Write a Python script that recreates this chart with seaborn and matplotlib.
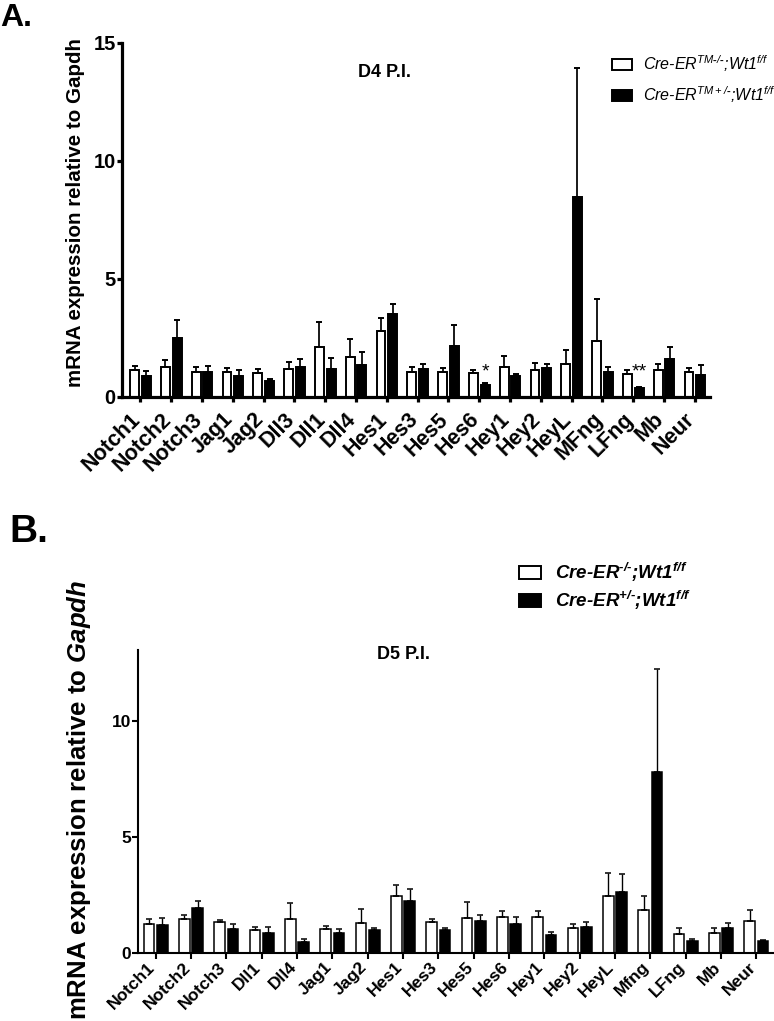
import matplotlib
matplotlib.use('Agg')
import matplotlib.pyplot as plt
from matplotlib.patches import Patch
from matplotlib.transforms import ScaledTranslation
import seaborn as sns
import pandas as pd
import numpy as np

# ---- panel A: D4 P.I. ----
genes_a = ['Notch1', 'Notch2', 'Notch3', 'Jag1', 'Jag2', 'Dll3', 'Dll1', 'Dll4', 'Hes1',
           'Hes3', 'Hes5', 'Hes6', 'Hey1', 'Hey2', 'HeyL', 'MFng', 'LFng', 'Mb', 'Neur']
ctrl_a = [1.14, 1.26, 1.06, 1.07, 1.03, 1.17, 2.13, 1.71, 2.78, 1.07, 1.06, 1.00, 1.28, 1.14, 1.40, 2.36, 0.99, 1.13, 1.04]
ctrl_a_err = [0.19, 0.29, 0.21, 0.14, 0.17, 0.30, 1.06, 0.75, 0.58, 0.21, 0.18, 0.16, 0.46, 0.30, 0.59, 1.78, 0.15, 0.27, 0.17]
ko_a = [0.89, 2.49, 1.06, 0.88, 0.68, 1.26, 1.20, 1.37, 3.50, 1.17, 2.16, 0.51, 0.89, 1.23, 8.47, 1.07, 0.39, 1.60, 0.94]
ko_a_err = [0.22, 0.77, 0.25, 0.25, 0.10, 0.34, 0.45, 0.55, 0.45, 0.23, 0.90, 0.08, 0.08, 0.17, 5.47, 0.21, 0.05, 0.53, 0.40]
sig_a = {'Hes6': '*', 'LFng': '**'}
labels_a = [r'Cre-ER$^{TM\text{-}/\text{-}}$;Wt1$^{f/f}$', r'Cre-ER$^{TM+/\text{-}}$;Wt1$^{f/f}$']

# ---- panel B: D5 P.I. ----
genes_b = ['Notch1', 'Notch2', 'Notch3', 'Dll1', 'Dll4', 'Jag1', 'Jag2', 'Hes1', 'Hes3',
           'Hes5', 'Hes6', 'Hey1', 'Hey2', 'HeyL', 'Mfng', 'LFng', 'Mb', 'Neur']
ctrl_b = [1.26, 1.46, 1.32, 0.98, 1.47, 1.04, 1.29, 2.47, 1.31, 1.52, 1.53, 1.53, 1.09, 2.47, 1.85, 0.82, 0.85, 1.38]
ctrl_b_err = [0.20, 0.19, 0.08, 0.15, 0.66, 0.11, 0.61, 0.44, 0.15, 0.67, 0.27, 0.26, 0.15, 0.98, 0.61, 0.24, 0.24, 0.48]
ko_b = [1.20, 1.93, 1.03, 0.85, 0.45, 0.86, 1.00, 2.25, 0.98, 1.35, 1.25, 0.77, 1.13, 2.62, 7.78, 0.51, 1.06, 0.49]
ko_b_err = [0.30, 0.32, 0.23, 0.28, 0.15, 0.17, 0.09, 0.52, 0.08, 0.27, 0.31, 0.12, 0.21, 0.80, 4.44, 0.09, 0.23, 0.08]
labels_b = [r'Cre-ER$^{\text{-}/\text{-}}$;Wt1$^{f/f}$', r'Cre-ER$^{+/\text{-}}$;Wt1$^{f/f}$']

sns.set_theme(style='ticks')
plt.rcParams['font.family'] = ['Liberation Sans', 'DejaVu Sans']
plt.rcParams['font.weight'] = 'bold'
plt.rcParams['mathtext.default'] = 'regular'
plt.rcParams['mathtext.fontset'] = 'custom'
plt.rcParams['mathtext.it'] = 'Liberation Sans:italic:bold'
plt.rcParams['mathtext.rm'] = 'Liberation Sans'
for k in ['text.color', 'axes.labelcolor', 'xtick.color', 'ytick.color', 'axes.edgecolor']:
    plt.rcParams[k] = 'black'


def make_df(genes, ctrl, ko):
    return pd.DataFrame({
        'gene': genes * 2,
        'group': ['ctrl'] * len(genes) + ['ko'] * len(genes),
        'value': list(ctrl) + list(ko),
    })


def draw_panel(ax, genes, ctrl, ctrl_err, ko, ko_err, lw, gap):
    df = make_df(genes, ctrl, ko)
    sns.barplot(data=df, x='gene', y='value', hue='group', palette=['white', 'black'],
                edgecolor='black', linewidth=lw, width=0.76, gap=gap,
                errorbar=None, legend=False, ax=ax)
    # upper-only SEM bars, GraphPad style
    for cont, errs in zip(ax.containers, [ctrl_err, ko_err]):
        xs = [p.get_x() + p.get_width() / 2 for p in cont]
        hs = [p.get_height() for p in cont]
        ax.errorbar(xs, hs, yerr=[np.zeros(len(errs)), errs], fmt='none',
                    ecolor='black', elinewidth=lw * 0.9, capsize=2, capthick=lw, zorder=1)
    return ax


def shift_xlabels(ax, dx, dy):
    # nudge rotated tick labels by a few pixels
    off = ScaledTranslation(dx / 100, dy / 100, fig.dpi_scale_trans)
    for t in ax.xaxis.get_major_ticks():
        t.label1.set_transform(t.label1.get_transform() + off)


fig = plt.figure(figsize=(7.74, 10.21), dpi=100)

# ---------- A ----------
ax1 = fig.add_axes([0.1576, 0.6112, 0.760, 0.3467])
draw_panel(ax1, genes_a, ctrl_a, ctrl_a_err, ko_a, ko_a_err, 1.4, 0.24)
ax1.set_ylim(0, 15)
ax1.set_xlim(-0.6, 18.5)
ax1.set_yticks([0, 5, 10, 15])
sns.despine(ax=ax1)
for s in ['left', 'bottom']:
    ax1.spines[s].set_linewidth(2.3)
ax1.tick_params(axis='both', width=2.3, length=3.5, pad=1)
ax1.tick_params(axis='y', labelsize=14.5)
ax1.set_xticks(range(len(genes_a)))
ax1.set_xticklabels(genes_a, rotation=45, ha='right', va='center', rotation_mode='anchor',
                    fontsize=15.5)
shift_xlabels(ax1, -3, -13)
ax1.set_xlabel('')
ax1.set_ylabel('mRNA expression relative to Gapdh', fontsize=14.8, fontweight='bold')
ax1.yaxis.set_label_coords(-0.063, 0.52)
ax1.text(0.447, 0.918, 'D4 P.I.', transform=ax1.transAxes, ha='center', va='center',
         fontsize=13, fontweight='bold')
# significance marks over the knock-out bars
ko_bars = ax1.containers[1]
for g, mark in sig_a.items():
    i = genes_a.index(g)
    p = ko_bars[i]
    ax1.text(p.get_x() + p.get_width() / 2, 0.68, mark, ha='center', va='bottom',
             fontsize=14, fontweight='normal')
h1 = [Patch(facecolor='white', edgecolor='black', linewidth=1.4),
      Patch(facecolor='black', edgecolor='black', linewidth=1.4)]
leg1 = ax1.legend(h1, labels_a, loc='upper left', bbox_to_anchor=(0.8224, 0.989), frameon=False,
                  borderaxespad=0, handlelength=1.25, handleheight=0.62, handletextpad=0.69,
                  labelspacing=0.65, prop={'size': 11.5, 'style': 'italic', 'weight': 'normal'})

# ---------- B ----------
ax2 = fig.add_axes([0.1783, 0.0668, 0.8217, 0.2968])
draw_panel(ax2, genes_b, ctrl_b, ctrl_b_err, ko_b, ko_b_err, 1.1, 0.22)
ax2.set_ylim(0, 13.07)
ax2.set_xlim(-0.5, 17.5)
ax2.set_yticks([0, 5, 10])
sns.despine(ax=ax2)
for s in ['left', 'bottom']:
    ax2.spines[s].set_linewidth(1.5)
ax2.tick_params(axis='both', width=1.5, length=4, pad=1)
ax2.tick_params(axis='y', labelsize=12.5)
ax2.set_xticks(range(len(genes_b)))
ax2.set_xticklabels(genes_b, rotation=45, ha='right', va='center', rotation_mode='anchor',
                    fontsize=12.5)
shift_xlabels(ax2, -3, -5)
ax2.set_xlabel('')
ax2.set_ylabel(r'mRNA expression relative to $\mathit{Gapdh}$', fontsize=18.5, fontweight='bold')
ax2.yaxis.set_label_coords(-0.0708, 0.504)
ax2.text(0.417, 0.986, 'D5 P.I.', transform=ax2.transAxes, ha='center', va='center',
         fontsize=13, fontweight='bold')
h2 = [Patch(facecolor='white', edgecolor='black', linewidth=1.4),
      Patch(facecolor='black', edgecolor='black', linewidth=1.4)]
leg2 = ax2.legend(h2, labels_b, loc='upper left', bbox_to_anchor=(0.587, 1.318), frameon=False,
                  borderaxespad=0, handlelength=1.2, handleheight=0.68, handletextpad=0.75,
                  labelspacing=0.28, prop={'size': 13.5, 'style': 'italic', 'weight': 'bold'})

fig.text(0.0, 0.997, 'A.', fontsize=23, fontweight='bold', ha='left', va='top')
fig.text(0.012, 0.497, 'B.', fontsize=28, fontweight='bold', ha='left', va='top')

fig.savefig('out.png', dpi=100)
